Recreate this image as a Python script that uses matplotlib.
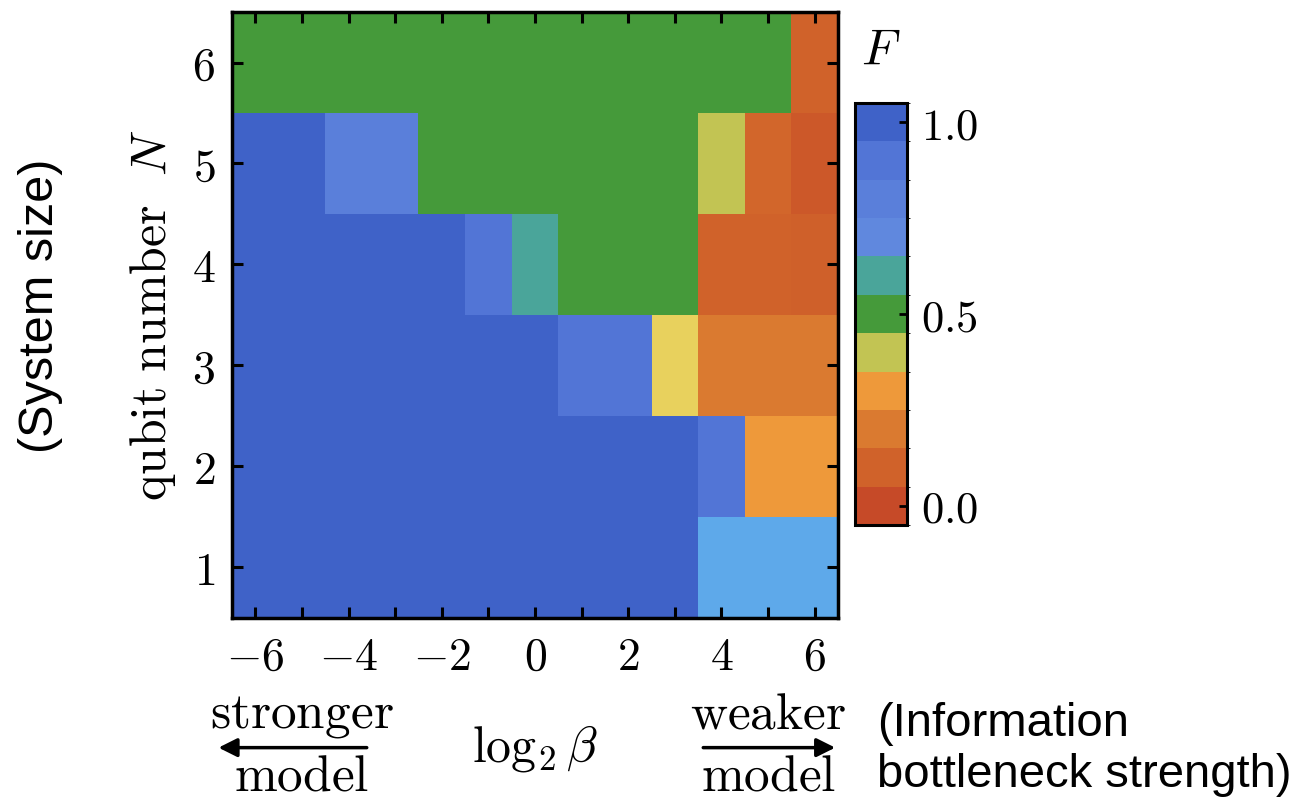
import numpy as np
import matplotlib
matplotlib.use("Agg")
import matplotlib.pyplot as plt
from matplotlib.colors import LinearSegmentedColormap, ListedColormap, BoundaryNorm
from matplotlib.cm import ScalarMappable

plt.rcParams['mathtext.fontset'] = 'cm'

# log2 beta values (columns) and qubit numbers (rows)
log2_beta = [-6, -5, -4, -3, -2, -1, 0, 1, 2, 3, 4, 5, 6]
qubits = [1, 2, 3, 4, 5, 6]

# F values, one row per qubit number
F_n1 = [1.0, 1.0, 1.0, 1.0, 1.0, 1.0, 1.0, 1.0, 1.0, 1.0, 0.65, 0.65, 0.65]
F_n2 = [1.0, 1.0, 1.0, 1.0, 1.0, 1.0, 1.0, 1.0, 1.0, 1.0, 0.9, 0.3, 0.3]
F_n3 = [1.0, 1.0, 1.0, 1.0, 1.0, 1.0, 1.0, 0.9, 0.9, 0.35, 0.2, 0.2, 0.2]
F_n4 = [1.0, 1.0, 1.0, 1.0, 1.0, 0.9, 0.6, 0.5, 0.5, 0.5, 0.1, 0.1, 0.09]
F_n5 = [1.0, 1.0, 0.8, 0.8, 0.5, 0.5, 0.5, 0.5, 0.5, 0.5, 0.4, 0.12, 0.06]
F_n6 = [0.5, 0.5, 0.5, 0.5, 0.5, 0.5, 0.5, 0.5, 0.5, 0.5, 0.5, 0.5, 0.1]

cbar_ticks = [0.0, 0.5, 1.0]

F = np.array([F_n1, F_n2, F_n3, F_n4, F_n5, F_n6])

# colour scale, roughly what the original used
anchors = [
    (0.0, '#c64a28'),
    (0.1, '#d0622a'),
    (0.2, '#da7a30'),
    (0.3, '#ee9a3a'),
    (0.35, '#e8d25e'),
    (0.4, '#c2c453'),
    (0.5, '#459a38'),
    (0.6, '#4aa59a'),
    (0.65, '#5eaaea'),
    (0.7, '#6088de'),
    (0.8, '#5a7fda'),
    (0.9, '#5275d6'),
    (1.0, '#3f62c8'),
]
cmap = LinearSegmentedColormap.from_list('fid', anchors)

fig = plt.figure(figsize=(12.94, 8.06), dpi=100)
ax = fig.add_axes([0.1793, 0.2333, 0.4683, 0.7518])

ax.pcolormesh(np.arange(-6.5, 7.0, 1.0), np.arange(0.5, 7.0, 1.0), F,
              cmap=cmap, vmin=0, vmax=1, shading='flat')
ax.set_xlim(-6.5, 6.5)
ax.set_ylim(0.5, 6.5)

ax.set_xticks(log2_beta)
ax.set_xticklabels(['$%s$' % ('-' + str(-b) if b < 0 else str(b)) if b % 2 == 0 else '' for b in log2_beta])
ax.set_yticks(qubits)
ax.set_yticklabels(['$%d$' % q for q in qubits])
ax.tick_params(direction='in', length=8, width=2.2, labelsize=33,
               top=True, right=True, pad=12)
for s in ax.spines.values():
    s.set_linewidth(2.5)

ax.set_ylabel(r'$\mathrm{qubit\ number}\ \ N$', fontsize=36, labelpad=10)

tr = ax.get_xaxis_transform()
ax.text(0, -0.215, r'$\log_2\beta$', transform=tr, fontsize=36,
        ha='center', va='center')
ax.text(-5, -0.16, r'$\mathrm{stronger}$', transform=tr, fontsize=37,
        ha='center', va='center')
ax.text(-5, -0.262, r'$\mathrm{model}$', transform=tr, fontsize=37,
        ha='center', va='center')
ax.text(5, -0.16, r'$\mathrm{weaker}$', transform=tr, fontsize=37,
        ha='center', va='center')
ax.text(5, -0.262, r'$\mathrm{model}$', transform=tr, fontsize=37,
        ha='center', va='center')
arrow = dict(arrowstyle='-|>', lw=2.5, color='black', mutation_scale=28)
ax.annotate('', xy=(-6.85, -0.214), xytext=(-3.55, -0.214), xycoords=tr,
            arrowprops=arrow, annotation_clip=False)
ax.annotate('', xy=(6.5, -0.214), xytext=(3.55, -0.214), xycoords=tr,
            arrowprops=arrow, annotation_clip=False)

# discrete colour bar
bounds = np.arange(-0.05, 1.1, 0.1)
centers = (bounds[:-1] + bounds[1:]) / 2
bar_cmap = ListedColormap([cmap(c) for c in centers])
cax = fig.add_axes([0.6607, 0.3486, 0.0402, 0.5236])
sm = ScalarMappable(norm=BoundaryNorm(bounds, bar_cmap.N), cmap=bar_cmap)
cb = fig.colorbar(sm, cax=cax, ticks=cbar_ticks)
cb.ax.set_yticklabels(['$%.1f$' % t for t in cbar_ticks])
cb.ax.tick_params(direction='in', length=6, width=2, labelsize=32, pad=10)
cb.outline.set_linewidth(2.2)
fig.text(0.681, 0.938, '$F$', fontsize=36, ha='center', va='center')

# plain-language annotations
fig.text(0.031, 0.62, '(System size)', rotation=90, fontsize=35,
         family='Liberation Sans', ha='center', va='center')
fig.text(0.678, 0.07, '(Information\nbottleneck strength)', fontsize=34,
         family='Liberation Sans', ha='left', va='center', linespacing=1.2)

fig.savefig('out.png', dpi=100)
